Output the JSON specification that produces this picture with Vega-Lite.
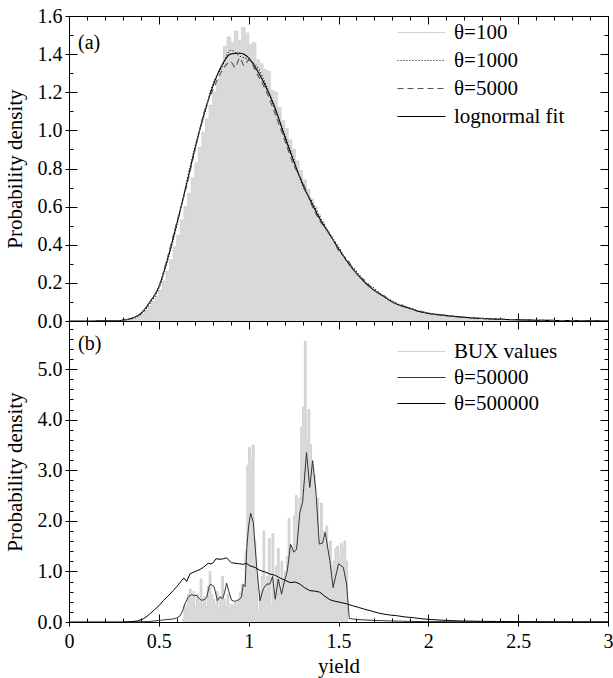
{
 "$schema": "https://vega.github.io/schema/vega-lite/v6.json",
 "padding": {"left": 3, "top": 5, "right": 0, "bottom": 3},
 "spacing": 0,
 "bounds": "flush",
 "config": {
  "font": "Liberation Serif",
  "view": {"stroke": "#000", "strokeWidth": 1},
  "axis": {"domain": false, "grid": false, "tickColor": "#000", "labelColor": "#000", "titleColor": "#000",
   "labelFont": "Liberation Serif", "titleFont": "Liberation Serif", "labelFontSize": 20, "titleFontSize": 21,
   "titleFontWeight": "normal", "labelOverlap": false, "labelFlush": false, "tickWidth": 1},
  "legend": {"labelFont": "Liberation Serif", "labelFontSize": 21, "labelColor": "#000"}
 },
 "resolve": {"scale": {"color": "independent", "strokeDash": "independent"}},
 "datasets": {
  "histA": [
   {"lo":0.30,"d":0.003},{"lo":0.32,"d":0.006},{"lo":0.34,"d":0.01},{"lo":0.36,"d":0.015},{"lo":0.38,"d":0.025},
   {"lo":0.40,"d":0.035},{"lo":0.42,"d":0.055},{"lo":0.44,"d":0.075},{"lo":0.46,"d":0.10},{"lo":0.48,"d":0.13},
   {"lo":0.50,"d":0.16},{"lo":0.52,"d":0.21},{"lo":0.54,"d":0.26},{"lo":0.56,"d":0.32},{"lo":0.58,"d":0.39},
   {"lo":0.60,"d":0.45},{"lo":0.62,"d":0.53},{"lo":0.64,"d":0.60},{"lo":0.66,"d":0.67},{"lo":0.68,"d":0.75},
   {"lo":0.70,"d":0.83},{"lo":0.72,"d":0.91},{"lo":0.74,"d":0.99},{"lo":0.76,"d":1.06},{"lo":0.78,"d":1.13},
   {"lo":0.80,"d":1.20},{"lo":0.82,"d":1.27},{"lo":0.84,"d":1.33},{"lo":0.86,"d":1.44},{"lo":0.88,"d":1.49},
   {"lo":0.90,"d":1.46},{"lo":0.92,"d":1.52},{"lo":0.94,"d":1.47},{"lo":0.96,"d":1.54},{"lo":0.98,"d":1.51},
   {"lo":1.00,"d":1.45},{"lo":1.02,"d":1.46},{"lo":1.04,"d":1.37},{"lo":1.06,"d":1.35},{"lo":1.08,"d":1.32},
   {"lo":1.10,"d":1.31},{"lo":1.12,"d":1.21},{"lo":1.14,"d":1.20},{"lo":1.16,"d":1.12},{"lo":1.18,"d":1.05},
   {"lo":1.20,"d":1.01},{"lo":1.22,"d":0.95},{"lo":1.24,"d":0.90},{"lo":1.26,"d":0.84},{"lo":1.28,"d":0.79},
   {"lo":1.30,"d":0.74},{"lo":1.32,"d":0.69},{"lo":1.34,"d":0.64},{"lo":1.36,"d":0.60},{"lo":1.38,"d":0.56},
   {"lo":1.40,"d":0.52},{"lo":1.42,"d":0.48},{"lo":1.44,"d":0.45},{"lo":1.46,"d":0.41},{"lo":1.48,"d":0.38},
   {"lo":1.50,"d":0.355},{"lo":1.52,"d":0.33},{"lo":1.54,"d":0.30},{"lo":1.56,"d":0.28},{"lo":1.58,"d":0.26},
   {"lo":1.60,"d":0.24},{"lo":1.62,"d":0.22},{"lo":1.64,"d":0.20},{"lo":1.66,"d":0.18},{"lo":1.68,"d":0.165},
   {"lo":1.70,"d":0.15},{"lo":1.72,"d":0.135},{"lo":1.74,"d":0.125},{"lo":1.76,"d":0.11},{"lo":1.78,"d":0.10},
   {"lo":1.80,"d":0.092},{"lo":1.82,"d":0.084},{"lo":1.84,"d":0.076},{"lo":1.86,"d":0.07},{"lo":1.88,"d":0.063},
   {"lo":1.90,"d":0.058},{"lo":1.92,"d":0.052},{"lo":1.94,"d":0.048},{"lo":1.96,"d":0.044},{"lo":1.98,"d":0.04},
   {"lo":2.00,"d":0.037},{"lo":2.02,"d":0.034},{"lo":2.04,"d":0.031},{"lo":2.06,"d":0.029},{"lo":2.08,"d":0.027},
   {"lo":2.10,"d":0.024},{"lo":2.15,"d":0.02},{"lo":2.20,"d":0.017},{"lo":2.25,"d":0.014},{"lo":2.30,"d":0.012},
   {"lo":2.35,"d":0.01},{"lo":2.40,"d":0.008},{"lo":2.45,"d":0.007},{"lo":2.50,"d":0.006},{"lo":2.55,"d":0.005},
   {"lo":2.60,"d":0.004},{"lo":2.65,"d":0.003},{"lo":2.70,"d":0}
  ],
  "curvesA": [
   {"series":"lognormal fit","x":0,"y":0},{"series":"lognormal fit","x":0.25,"y":0.001},{"series":"lognormal fit","x":0.30,"y":0.005},
   {"series":"lognormal fit","x":0.35,"y":0.015},{"series":"lognormal fit","x":0.40,"y":0.04},{"series":"lognormal fit","x":0.45,"y":0.10},
   {"series":"lognormal fit","x":0.50,"y":0.18},{"series":"lognormal fit","x":0.55,"y":0.33},{"series":"lognormal fit","x":0.60,"y":0.51},
   {"series":"lognormal fit","x":0.65,"y":0.70},{"series":"lognormal fit","x":0.70,"y":0.90},{"series":"lognormal fit","x":0.75,"y":1.08},
   {"series":"lognormal fit","x":0.80,"y":1.23},{"series":"lognormal fit","x":0.85,"y":1.34},{"series":"lognormal fit","x":0.90,"y":1.40},
   {"series":"lognormal fit","x":0.95,"y":1.405},{"series":"lognormal fit","x":1.00,"y":1.38},{"series":"lognormal fit","x":1.05,"y":1.31},
   {"series":"lognormal fit","x":1.10,"y":1.22},{"series":"lognormal fit","x":1.15,"y":1.11},{"series":"lognormal fit","x":1.20,"y":0.97},
   {"series":"lognormal fit","x":1.25,"y":0.84},{"series":"lognormal fit","x":1.30,"y":0.72},{"series":"lognormal fit","x":1.35,"y":0.62},
   {"series":"lognormal fit","x":1.40,"y":0.53},{"series":"lognormal fit","x":1.45,"y":0.455},{"series":"lognormal fit","x":1.50,"y":0.38},
   {"series":"lognormal fit","x":1.55,"y":0.31},{"series":"lognormal fit","x":1.60,"y":0.25},{"series":"lognormal fit","x":1.65,"y":0.20},
   {"series":"lognormal fit","x":1.70,"y":0.16},{"series":"lognormal fit","x":1.75,"y":0.13},{"series":"lognormal fit","x":1.80,"y":0.10},
   {"series":"lognormal fit","x":1.85,"y":0.08},{"series":"lognormal fit","x":1.90,"y":0.065},{"series":"lognormal fit","x":1.95,"y":0.05},
   {"series":"lognormal fit","x":2.00,"y":0.04},{"series":"lognormal fit","x":2.10,"y":0.028},{"series":"lognormal fit","x":2.20,"y":0.019},
   {"series":"lognormal fit","x":2.30,"y":0.013},{"series":"lognormal fit","x":2.40,"y":0.009},{"series":"lognormal fit","x":2.50,"y":0.006},
   {"series":"lognormal fit","x":2.60,"y":0.004},{"series":"lognormal fit","x":2.70,"y":0.003},{"series":"lognormal fit","x":2.80,"y":0.002},
   {"series":"lognormal fit","x":2.90,"y":0.001},{"series":"lognormal fit","x":3.00,"y":0},

   {"series":"θ=1000","x":0.25,"y":0},{"series":"θ=1000","x":0.30,"y":0.004},{"series":"θ=1000","x":0.35,"y":0.012},
   {"series":"θ=1000","x":0.40,"y":0.035},{"series":"θ=1000","x":0.45,"y":0.09},{"series":"θ=1000","x":0.50,"y":0.17},
   {"series":"θ=1000","x":0.55,"y":0.32},{"series":"θ=1000","x":0.60,"y":0.50},{"series":"θ=1000","x":0.65,"y":0.71},
   {"series":"θ=1000","x":0.70,"y":0.91},{"series":"θ=1000","x":0.75,"y":1.07},{"series":"θ=1000","x":0.80,"y":1.24},
   {"series":"θ=1000","x":0.85,"y":1.33},{"series":"θ=1000","x":0.90,"y":1.42},{"series":"θ=1000","x":0.95,"y":1.39},
   {"series":"θ=1000","x":1.00,"y":1.37},{"series":"θ=1000","x":1.05,"y":1.33},{"series":"θ=1000","x":1.10,"y":1.23},
   {"series":"θ=1000","x":1.15,"y":1.10},{"series":"θ=1000","x":1.20,"y":0.98},{"series":"θ=1000","x":1.25,"y":0.85},
   {"series":"θ=1000","x":1.30,"y":0.71},{"series":"θ=1000","x":1.35,"y":0.63},{"series":"θ=1000","x":1.40,"y":0.54},
   {"series":"θ=1000","x":1.45,"y":0.46},{"series":"θ=1000","x":1.50,"y":0.39},{"series":"θ=1000","x":1.55,"y":0.31},
   {"series":"θ=1000","x":1.60,"y":0.26},{"series":"θ=1000","x":1.65,"y":0.20},{"series":"θ=1000","x":1.70,"y":0.17},
   {"series":"θ=1000","x":1.75,"y":0.13},{"series":"θ=1000","x":1.80,"y":0.105},{"series":"θ=1000","x":1.85,"y":0.08},
   {"series":"θ=1000","x":1.90,"y":0.068},{"series":"θ=1000","x":1.95,"y":0.05},{"series":"θ=1000","x":2.00,"y":0.042},
   {"series":"θ=1000","x":2.10,"y":0.03},{"series":"θ=1000","x":2.20,"y":0.02},{"series":"θ=1000","x":2.30,"y":0.014},
   {"series":"θ=1000","x":2.40,"y":0.009},{"series":"θ=1000","x":2.50,"y":0.007},{"series":"θ=1000","x":2.60,"y":0.004},
   {"series":"θ=1000","x":2.80,"y":0.002},{"series":"θ=1000","x":3.00,"y":0.001},

   {"series":"θ=5000","x":0.25,"y":0},{"series":"θ=5000","x":0.30,"y":0.005},{"series":"θ=5000","x":0.35,"y":0.014},
   {"series":"θ=5000","x":0.40,"y":0.04},{"series":"θ=5000","x":0.45,"y":0.10},{"series":"θ=5000","x":0.50,"y":0.18},
   {"series":"θ=5000","x":0.55,"y":0.34},{"series":"θ=5000","x":0.60,"y":0.52},{"series":"θ=5000","x":0.65,"y":0.69},
   {"series":"θ=5000","x":0.70,"y":0.89},{"series":"θ=5000","x":0.75,"y":1.09},{"series":"θ=5000","x":0.80,"y":1.21},
   {"series":"θ=5000","x":0.85,"y":1.31},{"series":"θ=5000","x":0.90,"y":1.36},{"series":"θ=5000","x":0.925,"y":1.33},
   {"series":"θ=5000","x":0.95,"y":1.38},{"series":"θ=5000","x":0.975,"y":1.34},{"series":"θ=5000","x":1.00,"y":1.37},
   {"series":"θ=5000","x":1.05,"y":1.29},{"series":"θ=5000","x":1.10,"y":1.20},{"series":"θ=5000","x":1.15,"y":1.08},
   {"series":"θ=5000","x":1.20,"y":0.95},{"series":"θ=5000","x":1.25,"y":0.82},{"series":"θ=5000","x":1.30,"y":0.73},
   {"series":"θ=5000","x":1.35,"y":0.61},{"series":"θ=5000","x":1.40,"y":0.52},{"series":"θ=5000","x":1.45,"y":0.46},
   {"series":"θ=5000","x":1.50,"y":0.37},{"series":"θ=5000","x":1.55,"y":0.32},{"series":"θ=5000","x":1.60,"y":0.25},
   {"series":"θ=5000","x":1.65,"y":0.21},{"series":"θ=5000","x":1.70,"y":0.16},{"series":"θ=5000","x":1.75,"y":0.135},
   {"series":"θ=5000","x":1.80,"y":0.10},{"series":"θ=5000","x":1.85,"y":0.085},{"series":"θ=5000","x":1.90,"y":0.065},
   {"series":"θ=5000","x":1.95,"y":0.055},{"series":"θ=5000","x":2.00,"y":0.04},{"series":"θ=5000","x":2.10,"y":0.03},
   {"series":"θ=5000","x":2.20,"y":0.02},{"series":"θ=5000","x":2.30,"y":0.013},{"series":"θ=5000","x":2.40,"y":0.01},
   {"series":"θ=5000","x":2.50,"y":0.006},{"series":"θ=5000","x":2.60,"y":0.004},{"series":"θ=5000","x":2.80,"y":0.002},
   {"series":"θ=5000","x":3.00,"y":0.001}
  ],
  "bux": [
   {"lo":0.63,"d":0.05},{"lo":0.64,"d":0.35},{"lo":0.65,"d":0.25},{"lo":0.66,"d":0.55},{"lo":0.67,"d":0.65},
   {"lo":0.68,"d":0.45},{"lo":0.69,"d":0.6},{"lo":0.70,"d":0.3},{"lo":0.71,"d":0.55},{"lo":0.72,"d":0.4},
   {"lo":0.73,"d":0.85},{"lo":0.74,"d":0.35},{"lo":0.75,"d":0.5},{"lo":0.76,"d":0.3},{"lo":0.77,"d":0.7},
   {"lo":0.78,"d":1.0},{"lo":0.79,"d":0.55},{"lo":0.80,"d":0.45},{"lo":0.81,"d":0.35},{"lo":0.82,"d":0.6},
   {"lo":0.83,"d":0.25},{"lo":0.84,"d":0.5},{"lo":0.85,"d":0.9},{"lo":0.86,"d":0.45},{"lo":0.87,"d":0.3},
   {"lo":0.88,"d":0.55},{"lo":0.89,"d":0.25},{"lo":0.90,"d":0.35},{"lo":0.91,"d":0.3},{"lo":0.92,"d":0.4},
   {"lo":0.93,"d":0.35},{"lo":0.94,"d":0.45},{"lo":0.95,"d":0.6},{"lo":0.96,"d":0.75},{"lo":0.97,"d":0.55},
   {"lo":0.98,"d":1.4},{"lo":0.99,"d":3.1},{"lo":1.00,"d":3.45},{"lo":1.01,"d":3.2},{"lo":1.02,"d":3.5},
   {"lo":1.03,"d":1.6},{"lo":1.04,"d":0.9},{"lo":1.05,"d":0.2},{"lo":1.06,"d":0.6},{"lo":1.07,"d":0.9},
   {"lo":1.08,"d":1.8},{"lo":1.09,"d":0.6},{"lo":1.10,"d":0.9},{"lo":1.11,"d":1.65},{"lo":1.12,"d":0.3},
   {"lo":1.13,"d":1.75},{"lo":1.14,"d":0.5},{"lo":1.15,"d":1.1},{"lo":1.16,"d":1.45},{"lo":1.17,"d":0.55},
   {"lo":1.18,"d":1.2},{"lo":1.19,"d":0.8},{"lo":1.20,"d":1.0},{"lo":1.21,"d":1.3},{"lo":1.22,"d":2.05},
   {"lo":1.23,"d":1.5},{"lo":1.24,"d":1.4},{"lo":1.25,"d":2.1},{"lo":1.26,"d":2.5},{"lo":1.27,"d":1.9},
   {"lo":1.28,"d":2.45},{"lo":1.29,"d":3.85},{"lo":1.30,"d":4.25},{"lo":1.31,"d":5.55},{"lo":1.32,"d":3.6},
   {"lo":1.33,"d":4.2},{"lo":1.34,"d":3.5},{"lo":1.35,"d":3.1},{"lo":1.36,"d":2.9},{"lo":1.37,"d":2.2},
   {"lo":1.38,"d":2.45},{"lo":1.39,"d":1.6},{"lo":1.40,"d":2.35},{"lo":1.41,"d":1.8},{"lo":1.42,"d":1.5},
   {"lo":1.43,"d":1.9},{"lo":1.44,"d":1.4},{"lo":1.45,"d":1.6},{"lo":1.46,"d":1.1},{"lo":1.47,"d":1.2},
   {"lo":1.48,"d":1.45},{"lo":1.49,"d":1.5},{"lo":1.50,"d":1.3},{"lo":1.51,"d":1.55},{"lo":1.52,"d":1.45},
   {"lo":1.53,"d":1.6},{"lo":1.54,"d":1.2},{"lo":1.55,"d":0}
  ],
  "curvesB": [
   {"series":"θ=50000","x":0.30,"y":0},{"series":"θ=50000","x":0.40,"y":0.005},{"series":"θ=50000","x":0.45,"y":0.01},
   {"series":"θ=50000","x":0.50,"y":0.03},{"series":"θ=50000","x":0.525,"y":0.04},{"series":"θ=50000","x":0.55,"y":0.05},
   {"series":"θ=50000","x":0.58,"y":0.06},{"series":"θ=50000","x":0.60,"y":0.08},{"series":"θ=50000","x":0.618,"y":0.12},
   {"series":"θ=50000","x":0.632,"y":0.22},{"series":"θ=50000","x":0.645,"y":0.36},{"series":"θ=50000","x":0.665,"y":0.50},
   {"series":"θ=50000","x":0.682,"y":0.54},{"series":"θ=50000","x":0.70,"y":0.52},{"series":"θ=50000","x":0.71,"y":0.53},
   {"series":"θ=50000","x":0.725,"y":0.46},{"series":"θ=50000","x":0.738,"y":0.43},{"series":"θ=50000","x":0.752,"y":0.44},
   {"series":"θ=50000","x":0.766,"y":0.48},{"series":"θ=50000","x":0.78,"y":0.70},{"series":"θ=50000","x":0.788,"y":0.75},
   {"series":"θ=50000","x":0.807,"y":0.70},{"series":"θ=50000","x":0.818,"y":0.55},{"series":"θ=50000","x":0.826,"y":0.42},
   {"series":"θ=50000","x":0.84,"y":0.50},{"series":"θ=50000","x":0.855,"y":0.46},{"series":"θ=50000","x":0.866,"y":0.58},
   {"series":"θ=50000","x":0.877,"y":0.77},{"series":"θ=50000","x":0.89,"y":0.60},{"series":"θ=50000","x":0.905,"y":0.43},
   {"series":"θ=50000","x":0.92,"y":0.41},{"series":"θ=50000","x":0.933,"y":0.42},{"series":"θ=50000","x":0.95,"y":0.45},
   {"series":"θ=50000","x":0.96,"y":0.50},{"series":"θ=50000","x":0.97,"y":0.74},{"series":"θ=50000","x":0.98,"y":0.70},
   {"series":"θ=50000","x":0.99,"y":1.5},{"series":"θ=50000","x":1.00,"y":1.9},{"series":"θ=50000","x":1.011,"y":2.15},
   {"series":"θ=50000","x":1.026,"y":1.96},{"series":"θ=50000","x":1.045,"y":1.08},{"series":"θ=50000","x":1.063,"y":0.42},
   {"series":"θ=50000","x":1.081,"y":0.65},{"series":"θ=50000","x":1.10,"y":0.75},{"series":"θ=50000","x":1.118,"y":0.75},
   {"series":"θ=50000","x":1.133,"y":0.90},{"series":"θ=50000","x":1.148,"y":0.45},{"series":"θ=50000","x":1.165,"y":0.85},
   {"series":"θ=50000","x":1.183,"y":0.55},{"series":"θ=50000","x":1.20,"y":0.82},{"series":"θ=50000","x":1.215,"y":1.01},
   {"series":"θ=50000","x":1.233,"y":1.54},{"series":"θ=50000","x":1.252,"y":1.38},{"series":"θ=50000","x":1.267,"y":1.44},
   {"series":"θ=50000","x":1.285,"y":2.17},{"series":"θ=50000","x":1.30,"y":2.36},{"series":"θ=50000","x":1.322,"y":3.35},
   {"series":"θ=50000","x":1.34,"y":2.66},{"series":"θ=50000","x":1.356,"y":3.19},{"series":"θ=50000","x":1.374,"y":2.59},
   {"series":"θ=50000","x":1.393,"y":1.54},{"series":"θ=50000","x":1.411,"y":1.56},{"series":"θ=50000","x":1.426,"y":1.77},
   {"series":"θ=50000","x":1.452,"y":1.21},{"series":"θ=50000","x":1.47,"y":0.68},{"series":"θ=50000","x":1.50,"y":1.15},
   {"series":"θ=50000","x":1.527,"y":1.08},{"series":"θ=50000","x":1.545,"y":0.75},{"series":"θ=50000","x":1.56,"y":0.07},
   {"series":"θ=50000","x":1.60,"y":0.05},{"series":"θ=50000","x":1.70,"y":0.03},{"series":"θ=50000","x":1.80,"y":0.02},
   {"series":"θ=50000","x":1.90,"y":0.012},{"series":"θ=50000","x":2.00,"y":0.008},{"series":"θ=50000","x":2.20,"y":0.004},
   {"series":"θ=50000","x":2.50,"y":0.001},{"series":"θ=50000","x":3.00,"y":0},

   {"series":"θ=500000","x":0.0,"y":0},{"series":"θ=500000","x":0.30,"y":0},{"series":"θ=500000","x":0.34,"y":0.005},
   {"series":"θ=500000","x":0.38,"y":0.02},{"series":"θ=500000","x":0.413,"y":0.06},{"series":"θ=500000","x":0.44,"y":0.13},
   {"series":"θ=500000","x":0.469,"y":0.22},{"series":"θ=500000","x":0.50,"y":0.32},{"series":"θ=500000","x":0.525,"y":0.42},
   {"series":"θ=500000","x":0.55,"y":0.51},{"series":"θ=500000","x":0.58,"y":0.62},{"series":"θ=500000","x":0.60,"y":0.70},
   {"series":"θ=500000","x":0.627,"y":0.82},{"series":"θ=500000","x":0.64,"y":0.87},{"series":"θ=500000","x":0.655,"y":0.80},
   {"series":"θ=500000","x":0.673,"y":0.95},{"series":"θ=500000","x":0.69,"y":0.98},{"series":"θ=500000","x":0.71,"y":1.01},
   {"series":"θ=500000","x":0.73,"y":1.04},{"series":"θ=500000","x":0.747,"y":1.08},{"series":"θ=500000","x":0.775,"y":1.16},
   {"series":"θ=500000","x":0.79,"y":1.15},{"series":"θ=500000","x":0.803,"y":1.17},{"series":"θ=500000","x":0.818,"y":1.25},
   {"series":"θ=500000","x":0.84,"y":1.24},{"series":"θ=500000","x":0.86,"y":1.25},{"series":"θ=500000","x":0.877,"y":1.27},
   {"series":"θ=500000","x":0.892,"y":1.21},{"series":"θ=500000","x":0.905,"y":1.17},{"series":"θ=500000","x":0.93,"y":1.16},
   {"series":"θ=500000","x":0.95,"y":1.15},{"series":"θ=500000","x":0.97,"y":1.14},{"series":"θ=500000","x":0.988,"y":1.16},
   {"series":"θ=500000","x":1.007,"y":1.11},{"series":"θ=500000","x":1.035,"y":1.08},{"series":"θ=500000","x":1.063,"y":1.02},
   {"series":"θ=500000","x":1.09,"y":0.99},{"series":"θ=500000","x":1.118,"y":0.95},{"series":"θ=500000","x":1.15,"y":0.92},
   {"series":"θ=500000","x":1.174,"y":0.87},{"series":"θ=500000","x":1.20,"y":0.83},{"series":"θ=500000","x":1.23,"y":0.78},
   {"series":"θ=500000","x":1.26,"y":0.79},{"series":"θ=500000","x":1.285,"y":0.75},{"series":"θ=500000","x":1.31,"y":0.68},
   {"series":"θ=500000","x":1.34,"y":0.62},{"series":"θ=500000","x":1.37,"y":0.61},{"series":"θ=500000","x":1.396,"y":0.59},
   {"series":"θ=500000","x":1.42,"y":0.52},{"series":"θ=500000","x":1.452,"y":0.44},{"series":"θ=500000","x":1.48,"y":0.41},
   {"series":"θ=500000","x":1.508,"y":0.39},{"series":"θ=500000","x":1.545,"y":0.36},{"series":"θ=500000","x":1.58,"y":0.32},
   {"series":"θ=500000","x":1.61,"y":0.29},{"series":"θ=500000","x":1.638,"y":0.26},{"series":"θ=500000","x":1.68,"y":0.22},
   {"series":"θ=500000","x":1.73,"y":0.17},{"series":"θ=500000","x":1.78,"y":0.14},{"series":"θ=500000","x":1.824,"y":0.125},
   {"series":"θ=500000","x":1.87,"y":0.10},{"series":"θ=500000","x":1.916,"y":0.085},{"series":"θ=500000","x":1.96,"y":0.065},
   {"series":"θ=500000","x":2.01,"y":0.05},{"series":"θ=500000","x":2.10,"y":0.03},{"series":"θ=500000","x":2.19,"y":0.02},
   {"series":"θ=500000","x":2.30,"y":0.013},{"series":"θ=500000","x":2.38,"y":0.01},{"series":"θ=500000","x":2.50,"y":0.006},
   {"series":"θ=500000","x":2.60,"y":0.004},{"series":"θ=500000","x":2.80,"y":0.002},{"series":"θ=500000","x":3.00,"y":0.001}
  ]
 },
 "vconcat": [
  {
   "width": 539, "height": 305,
   "resolve": {"axis": {"x": "independent", "y": "independent"}},
   "layer": [
    {
     "data": {"name": "histA"},
     "mark": {"type": "area", "interpolate": "step-after", "color": "#d9d9d9"},
     "encoding": {
      "x": {"field": "lo", "type": "quantitative", "scale": {"domain": [0, 3], "nice": false, "zero": false},
       "axis": {"orient": "bottom", "title": null, "labels": false,
        "values": [0,0.1,0.2,0.3,0.4,0.5,0.6,0.7,0.8,0.9,1,1.1,1.2,1.3,1.4,1.5,1.6,1.7,1.8,1.9,2,2.1,2.2,2.3,2.4,2.5,2.6,2.7,2.8,2.9,3],
        "tickSize": {"condition": {"test": "round(datum.value*10)%5===0", "value": -8}, "value": -4}}},
      "y": {"field": "d", "type": "quantitative", "scale": {"domain": [0, 1.6], "nice": false},
       "axis": {"orient": "left", "title": "Probability density", "titlePadding": 12, "labelPadding": 15,
        "values": [0,0.1,0.2,0.3,0.4,0.5,0.6,0.7,0.8,0.9,1,1.1,1.2,1.3,1.4,1.5,1.6],
        "labelExpr": "round(datum.value*10)%2===0 ? format(datum.value,'.1f') : ''",
        "tickSize": {"condition": {"test": "round(datum.value*10)%2===0", "value": -8}, "value": -4}}}
     }
    },
    {
     "data": {"name": "histA"},
     "mark": {"type": "line", "interpolate": "step-after", "strokeWidth": 1},
     "encoding": {
      "x": {"field": "lo", "type": "quantitative", "scale": {"domain": [0, 3], "nice": false, "zero": false},
       "axis": {"orient": "top", "title": null, "labels": false,
        "values": [0,0.1,0.2,0.3,0.4,0.5,0.6,0.7,0.8,0.9,1,1.1,1.2,1.3,1.4,1.5,1.6,1.7,1.8,1.9,2,2.1,2.2,2.3,2.4,2.5,2.6,2.7,2.8,2.9,3],
        "tickSize": {"condition": {"test": "round(datum.value*10)%5===0", "value": -8}, "value": -4}}},
      "y": {"field": "d", "type": "quantitative", "scale": {"domain": [0, 1.6], "nice": false},
       "axis": {"orient": "right", "title": null, "labels": false,
        "values": [0,0.1,0.2,0.3,0.4,0.5,0.6,0.7,0.8,0.9,1,1.1,1.2,1.3,1.4,1.5,1.6],
        "tickSize": {"condition": {"test": "round(datum.value*10)%2===0", "value": -8}, "value": -4}}},
      "color": {"datum": "θ=100", "type": "nominal",
       "scale": {"domain": ["θ=100", "θ=1000", "θ=5000", "lognormal fit"], "range": ["#d0d0d0", "#000000", "#555555", "#000000"]},
       "legend": {"orient": "none", "legendX": 342, "legendY": 6, "title": null, "symbolType": "M-6,0H6", "symbolSize": 64,
        "symbolStrokeWidth": 1.2, "labelOffset": 22, "rowPadding": 6, "padding": 0}},
      "strokeDash": {"datum": "θ=100", "type": "nominal",
       "scale": {"domain": ["θ=100", "θ=1000", "θ=5000", "lognormal fit"], "range": [[1, 0], [1, 2], [6, 4], [1, 0]]},
       "legend": {"orient": "none", "legendX": 342, "legendY": 6, "title": null, "symbolType": "M-6,0H6", "symbolSize": 64,
        "symbolStrokeWidth": 1.2, "labelOffset": 22, "rowPadding": 6, "padding": 0}}
     }
    },
    {
     "data": {"name": "curvesA"},
     "mark": {"type": "line", "strokeWidth": 1.1, "interpolate": "monotone"},
     "encoding": {
      "x": {"field": "x", "type": "quantitative", "scale": {"domain": [0, 3], "nice": false, "zero": false}, "axis": null},
      "y": {"field": "y", "type": "quantitative", "scale": {"domain": [0, 1.6], "nice": false},
       "axis": {"orient": "left", "title": null, "labels": false, "values": [0,0.2,0.4,0.6,0.8,1,1.2,1.4,1.6], "tickSize": 4}},
      "color": {"field": "series", "type": "nominal",
       "legend": {"orient": "none", "legendX": 342, "legendY": 6, "title": null, "symbolType": "M-6,0H6", "symbolSize": 64,
        "symbolStrokeWidth": 1.2, "labelOffset": 22, "rowPadding": 6, "padding": 0}},
      "strokeDash": {"field": "series", "type": "nominal",
       "legend": {"orient": "none", "legendX": 342, "legendY": 6, "title": null, "symbolType": "M-6,0H6", "symbolSize": 64,
        "symbolStrokeWidth": 1.2, "labelOffset": 22, "rowPadding": 6, "padding": 0}}
     }
    },
    {
     "data": {"values": [{}]},
     "mark": {"type": "text", "text": "(a)", "align": "left", "baseline": "middle", "fontSize": 20, "font": "Liberation Serif", "color": "#000"},
     "encoding": {
      "x": {"datum": 0.05, "type": "quantitative", "scale": {"domain": [0, 3], "nice": false, "zero": false}, "axis": null},
      "y": {"datum": 1.46, "type": "quantitative", "scale": {"domain": [0, 1.6], "nice": false}, "axis": null}
     }
    }
   ]
  },
  {
   "width": 539, "height": 301,
   "resolve": {"axis": {"x": "independent", "y": "independent"}},
   "layer": [
    {
     "data": {"name": "bux"},
     "mark": {"type": "area", "interpolate": "step-after", "color": "#d9d9d9"},
     "encoding": {
      "x": {"field": "lo", "type": "quantitative", "scale": {"domain": [0, 3], "nice": false, "zero": false},
       "axis": {"orient": "bottom", "title": "yield", "titlePadding": 0, "labelPadding": 17,
        "values": [0,0.1,0.2,0.3,0.4,0.5,0.6,0.7,0.8,0.9,1,1.1,1.2,1.3,1.4,1.5,1.6,1.7,1.8,1.9,2,2.1,2.2,2.3,2.4,2.5,2.6,2.7,2.8,2.9,3],
        "labelExpr": "round(datum.value*10)%5===0 ? format(datum.value,'~g') : ''",
        "tickSize": {"condition": {"test": "round(datum.value*10)%5===0", "value": -8}, "value": -4}}},
      "y": {"field": "d", "type": "quantitative", "scale": {"domain": [0, 5.95], "nice": false},
       "axis": {"orient": "left", "title": "Probability density", "titlePadding": 12, "labelPadding": 15,
        "values": [0,0.2,0.4,0.6,0.8,1,1.2,1.4,1.6,1.8,2,2.2,2.4,2.6,2.8,3,3.2,3.4,3.6,3.8,4,4.2,4.4,4.6,4.8,5,5.2,5.4,5.6,5.8],
        "labelExpr": "round(datum.value*10)%10===0 ? format(datum.value,'.1f') : ''",
        "tickSize": {"condition": {"test": "round(datum.value*10)%10===0", "value": -8}, "value": -4}}}
     }
    },
    {
     "data": {"name": "bux"},
     "mark": {"type": "line", "interpolate": "step-after", "strokeWidth": 1},
     "encoding": {
      "x": {"field": "lo", "type": "quantitative", "scale": {"domain": [0, 3], "nice": false, "zero": false},
       "axis": {"orient": "top", "title": null, "labels": false,
        "values": [0,0.1,0.2,0.3,0.4,0.5,0.6,0.7,0.8,0.9,1,1.1,1.2,1.3,1.4,1.5,1.6,1.7,1.8,1.9,2,2.1,2.2,2.3,2.4,2.5,2.6,2.7,2.8,2.9,3],
        "tickSize": {"condition": {"test": "round(datum.value*10)%5===0", "value": -8}, "value": -4}}},
      "y": {"field": "d", "type": "quantitative", "scale": {"domain": [0, 5.95], "nice": false},
       "axis": {"orient": "right", "title": null, "labels": false,
        "values": [0,0.2,0.4,0.6,0.8,1,1.2,1.4,1.6,1.8,2,2.2,2.4,2.6,2.8,3,3.2,3.4,3.6,3.8,4,4.2,4.4,4.6,4.8,5,5.2,5.4,5.6,5.8],
        "tickSize": {"condition": {"test": "round(datum.value*10)%10===0", "value": -8}, "value": -4}}},
      "color": {"datum": "BUX values", "type": "nominal",
       "scale": {"domain": ["BUX values", "θ=50000", "θ=500000"], "range": ["#d0d0d0", "#333333", "#000000"]},
       "legend": {"orient": "none", "legendX": 342, "legendY": 20, "title": null, "symbolType": "M-6,0H6", "symbolSize": 64,
        "symbolStrokeWidth": 1.2, "labelOffset": 22, "rowPadding": 4, "padding": 0}}
     }
    },
    {
     "data": {"name": "curvesB"},
     "mark": {"type": "line", "strokeWidth": 1},
     "encoding": {
      "x": {"field": "x", "type": "quantitative", "scale": {"domain": [0, 3], "nice": false, "zero": false},
       "axis": {"orient": "bottom", "title": null, "labels": false, "values": [0,0.5,1,1.5,2,2.5,3], "tickSize": 4}},
      "y": {"field": "y", "type": "quantitative", "scale": {"domain": [0, 5.95], "nice": false},
       "axis": {"orient": "left", "title": null, "labels": false, "values": [0,1,2,3,4,5], "tickSize": 4}},
      "color": {"field": "series", "type": "nominal",
       "legend": {"orient": "none", "legendX": 342, "legendY": 20, "title": null, "symbolType": "M-6,0H6", "symbolSize": 64,
        "symbolStrokeWidth": 1.2, "labelOffset": 22, "rowPadding": 4, "padding": 0}}
     }
    },
    {
     "data": {"values": [{}]},
     "mark": {"type": "text", "text": "(b)", "align": "left", "baseline": "middle", "fontSize": 20, "font": "Liberation Serif", "color": "#000"},
     "encoding": {
      "x": {"datum": 0.05, "type": "quantitative", "scale": {"domain": [0, 3], "nice": false, "zero": false}, "axis": null},
      "y": {"datum": 5.5, "type": "quantitative", "scale": {"domain": [0, 5.95], "nice": false}, "axis": null}
     }
    }
   ]
  }
 ]
}
